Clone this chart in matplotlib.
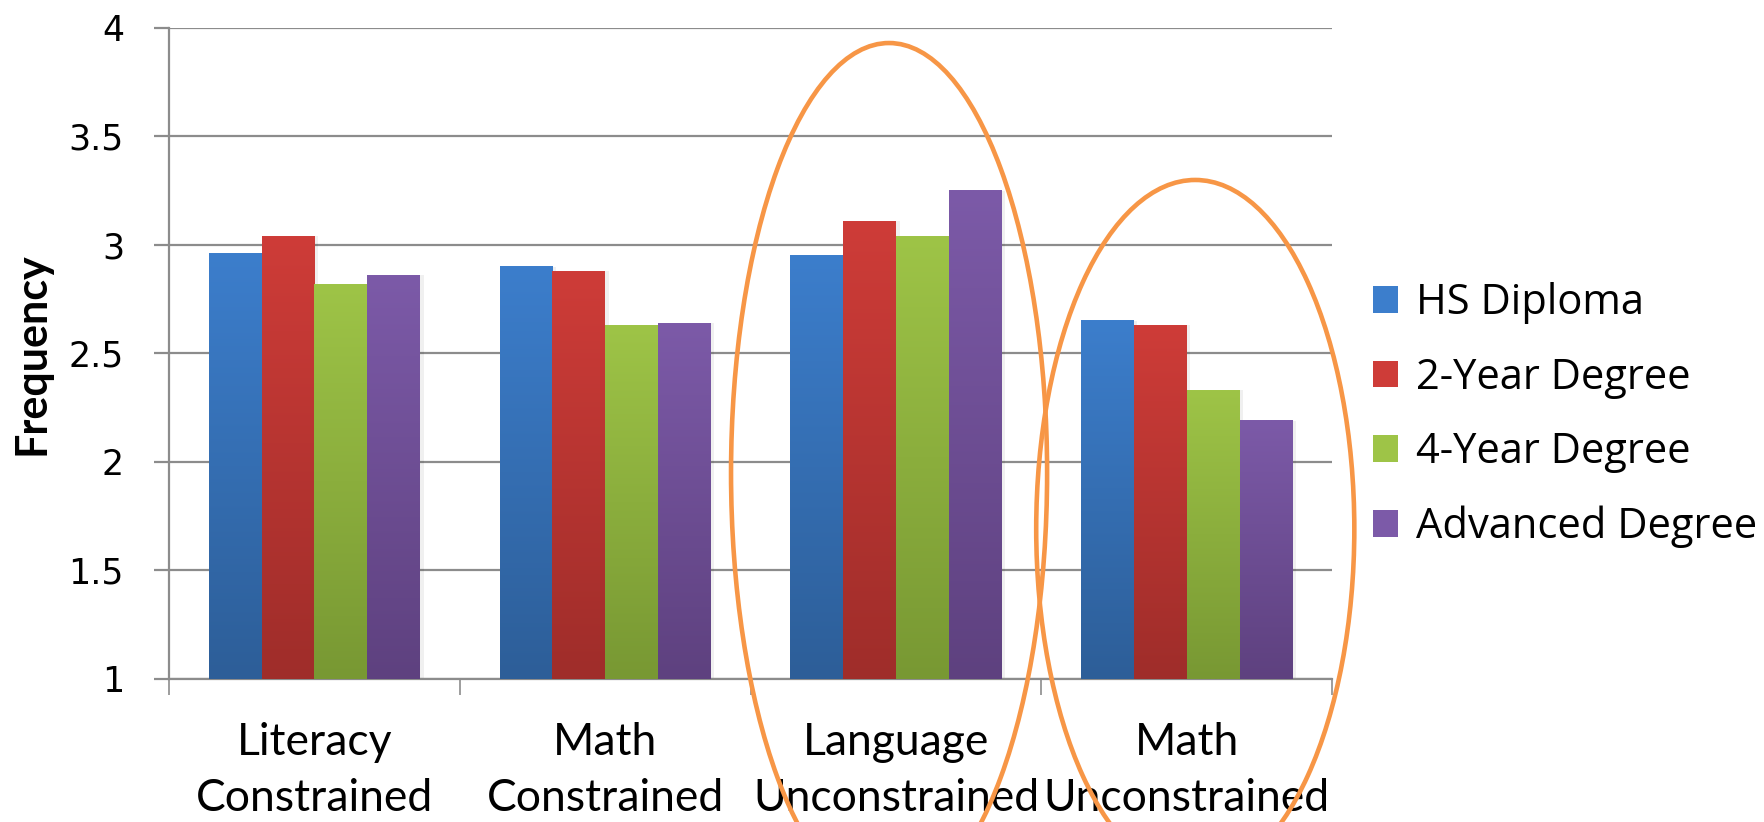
import matplotlib.pyplot as plt
import numpy as np
from matplotlib.patches import Ellipse
from matplotlib.colors import LinearSegmentedColormap
from matplotlib.ticker import FixedLocator

categories = ['Literacy\nConstrained', 'Math\nConstrained',
              'Language\nUnconstrained', 'Math\nUnconstrained']
series_names = ['HS Diploma', '2-Year Degree', '4-Year Degree', 'Advanced Degree']
hs_diploma = [2.96, 2.90, 2.95, 2.65]
two_year = [3.04, 2.88, 3.11, 2.63]
four_year = [2.82, 2.63, 3.04, 2.33]
advanced = [2.86, 2.64, 3.25, 2.19]
y_ticks = [1, 1.5, 2, 2.5, 3, 3.5, 4]

# (top colour, bottom colour) for the vertical gradient on each series
shades = [('#3C7ECC', '#2D5E98'),
          ('#CE3C38', '#9F2D2A'),
          ('#9EC447', '#789833'),
          ('#7C5AA8', '#5E417F')]
grid_col = '#8C8C8C'
ring_col = '#F79646'
narrow_font = ['Lato', 'DejaVu Sans']

fig = plt.figure(figsize=(17.65, 8.22), dpi=100)
ax = fig.add_axes([0.0958, 0.174, 0.659, 0.792])

x = np.arange(len(categories))
width = 1 / 5.5
grad = np.linspace(1, 0, 256).reshape(-1, 1)

for i, vals in enumerate([hs_diploma, two_year, four_year, advanced]):
    top, bot = shades[i]
    cmap = LinearSegmentedColormap.from_list('g%d' % i, [bot, top])
    pos = x + (i - 1.5) * width
    bars = ax.bar(pos, np.array(vals) - 1, width, bottom=1, color=top,
                  label=series_names[i], zorder=3, linewidth=0)
    for b in bars:
        x0 = b.get_x()
        y0 = b.get_y()
        # soft shadow on the right of each bar
        ax.bar(x0 + width * 0.5 + 0.012, b.get_height(), width, bottom=y0,
               color='#000000', alpha=0.06, zorder=2.5, linewidth=0)
        ax.imshow(grad, extent=[x0, x0 + width, y0, y0 + b.get_height()],
                  aspect='auto', cmap=cmap, zorder=3.1, origin='upper',
                  vmin=0, vmax=1)

ax.set_xlim(-0.5, len(categories) - 0.5)
ax.set_ylim(1, 4)
ax.set_yticks(y_ticks)
ax.set_yticklabels(['%g' % t for t in y_ticks], fontsize=25, family='DejaVu Sans')
ax.yaxis.grid(True, color=grid_col, lw=1.6, zorder=0)
ax.set_axisbelow(True)

ax.xaxis.set_major_locator(FixedLocator(np.arange(len(categories) + 1) - 0.5))
ax.xaxis.set_minor_locator(FixedLocator(x))
ax.set_xticklabels([], minor=False)
ax.set_xticklabels(categories, minor=True, fontsize=32, family=narrow_font,
                   linespacing=1.45)
ax.tick_params(axis='x', which='major', length=11.5, width=1.2, color=grid_col)
ax.tick_params(axis='x', which='minor', length=0, pad=31)
ax.tick_params(axis='y', length=10.5, width=1.6, color=grid_col, pad=22)

for s in ['top', 'right']:
    ax.spines[s].set_visible(False)
for s in ['left', 'bottom']:
    ax.spines[s].set_color(grid_col)
    ax.spines[s].set_linewidth(1.6)

ax.set_ylabel('Frequency', fontsize=31, fontweight='bold', family=narrow_font)
ax.yaxis.set_label_coords(-0.101, 0.5)

ax.legend(loc='center left', bbox_to_anchor=(0.778, 0.495),
          bbox_transform=fig.transFigure, frameon=False,
          prop={'family': ['Open Sans', 'DejaVu Sans'], 'size': 30},
          handlelength=0.6, handleheight=0.6, handletextpad=0.43,
          labelspacing=0.78, borderpad=0, borderaxespad=0)

# highlight rings around the unconstrained groups
ax.add_patch(Ellipse((1.976, 1.949), 1.087, 3.963, fill=False, ec=ring_col,
                     lw=3.3, clip_on=False, zorder=6))
ax.add_patch(Ellipse((3.029, 1.691), 1.094, 3.217, fill=False, ec=ring_col,
                     lw=3.3, clip_on=False, zorder=6))

fig.savefig('out.png', dpi=100)
